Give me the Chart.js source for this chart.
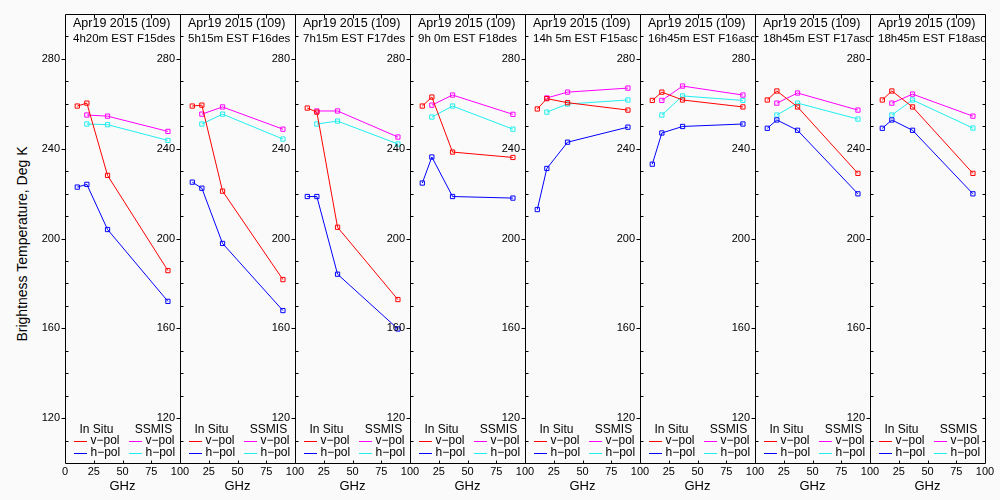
<!DOCTYPE html>
<html lang="en">
<head>
  <meta charset="UTF-8">
  <title>Brightness Temperature Apr19 2015</title>
  <script src="https://cdn.jsdelivr.net/npm/chart.js"></script>
  <style>
    html, body { margin: 0; padding: 0; background: #fafafa; overflow: hidden; }
    #page { position: relative; width: 1000px; height: 500px; }
    canvas { position: absolute; top: 0; }
    #ytitle {
      position: absolute; left: 22px; top: 244px;
      transform: translate(-50%, -50%) rotate(-90deg);
      font: 14px "Liberation Sans", Arial, sans-serif; white-space: nowrap; color: #000;
    }
  </style>
</head>
<body>
  <div id="page">
    <div id="ytitle">Brightness Temperature, Deg K</div>
  </div>

  <script>
    // panel titles
    const dateLabel = "Apr19 2015 (109)";
    const passLabels = ["4h20m EST F15des", "5h15m EST F16des", "7h15m EST F17des", "9h 0m EST F18des",
                        "14h 5m EST F15asc", "16h45m EST F16asc", "18h45m EST F17asc", "18h45m EST F18asc"];

    // frequencies (GHz)
    const inSituFreq = [10.7, 19, 37, 89.5];
    const ssmisFreq = [19, 37, 89.5];

    // brightness temperatures (K), one row per panel
    const inSituV = [
      [259.0, 260.3, 228.1, 185.7],
      [259.0, 259.4, 221.1, 181.7],
      [258.1, 256.3, 205.0, 172.8],
      [259.0, 263.0, 238.5, 236.1],
      [257.7, 262.3, 260.5, 257.2],
      [261.5, 265.2, 261.7, 258.6],
      [261.7, 265.7, 258.6, 229.0],
      [261.7, 265.7, 258.6, 229.0]
    ];
    const inSituH = [
      [222.9, 224.1, 204.0, 172.0],
      [225.1, 222.4, 197.8, 167.9],
      [218.7, 218.7, 184.1, 159.7],
      [224.7, 236.3, 218.7, 218.0],
      [212.9, 231.2, 242.9, 249.6],
      [233.1, 247.0, 249.9, 251.0],
      [249.1, 252.8, 248.2, 219.9],
      [249.1, 252.8, 248.2, 219.9]
    ];
    const ssmisV = [
      [255.0, 254.5, 247.7],
      [255.4, 258.6, 248.7],
      [256.8, 256.8, 245.2],
      [259.4, 263.9, 255.3],
      [262.6, 265.2, 267.0],
      [261.5, 267.9, 263.9],
      [260.3, 264.8, 257.2],
      [260.3, 264.3, 254.5]
    ];
    const ssmisH = [
      [251.0, 250.7, 243.7],
      [251.0, 255.4, 244.3],
      [251.0, 252.3, 242.1],
      [254.1, 259.0, 248.7],
      [256.3, 259.9, 261.7],
      [255.0, 263.5, 261.5],
      [255.0, 260.3, 253.2],
      [255.0, 261.7, 249.2]
    ];

    const yTicks = [120, 160, 200, 240, 280];
    const xTicks = [0, 25, 50, 75, 100];

    const FONT = '"Liberation Sans", Arial, sans-serif';
    const couleurs = { iv: "#ff0000", ih: "#0000ff", sv: "#ff00ff", sh: "#22eeee" };

    function serie(freqs, vals, color) {
      return {
        data: freqs.map((f, k) => ({ x: f, y: vals[k] })),
        borderColor: color,
        borderWidth: 1,
        backgroundColor: "transparent",
        pointStyle: "rect",
        pointRadius: 3,
        pointBorderWidth: 1,
        pointBorderColor: color,
        pointBackgroundColor: "transparent",
        tension: 0
      };
    }

    function cadre(i) {
      return {
        id: "cadre" + i,
        afterDraw(chart) {
          const { ctx, chartArea: a, scales: { x, y } } = chart;
          const L = Math.round(a.left) + 0.5, R = Math.round(a.right) + 0.5;
          const T = Math.round(a.top) + 0.5, B = Math.round(a.bottom) + 0.5;
          ctx.save();
          ctx.strokeStyle = "#000";
          ctx.lineWidth = 1;
          ctx.beginPath();
          ctx.rect(L, T, R - L, B - T);
          // y ticks
          for (let v = 110; v <= 290; v += 10) {
            const py = Math.round(y.getPixelForValue(v)) + 0.5;
            if (yTicks.includes(v)) { ctx.moveTo(L - 4, py); ctx.lineTo(L, py); }
            else { ctx.moveTo(L, py); ctx.lineTo(L + 3, py); }
            if (i === 7) { ctx.moveTo(R, py); ctx.lineTo(R - 3, py); }
          }
          // x ticks top and bottom
          [25, 50, 75].forEach(v => {
            const px = Math.round(x.getPixelForValue(v)) + 0.5;
            ctx.moveTo(px, T); ctx.lineTo(px, T + 4);
            ctx.moveTo(px, B); ctx.lineTo(px, B - 3);
          });
          ctx.stroke();

          // titles, clipped to the panel
          ctx.save();
          ctx.beginPath();
          ctx.rect(a.left + 1, a.top + 1, a.right - a.left - 1.5, 40);
          ctx.clip();
          ctx.fillStyle = "#000";
          ctx.textBaseline = "middle";
          ctx.textAlign = "left";
          ctx.font = "12.5px " + FONT;
          ctx.fillText(dateLabel, a.left + 8, 24);
          ctx.font = "11.5px " + FONT;
          ctx.fillText(passLabels[i], a.left + 8, 38.5);
          ctx.restore();

          // legend
          ctx.fillStyle = "#000";
          ctx.font = "12px " + FONT;
          ctx.textBaseline = "middle";
          ctx.textAlign = "center";
          ctx.fillText("In Situ", a.left + 31.5, 429.5);
          ctx.fillText("SSMIS", a.left + 88.5, 429.5);
          ctx.textAlign = "left";
          const lignes = [
            [couleurs.iv, 9, 441, "v\u2212pol"], [couleurs.ih, 9, 452.5, "h\u2212pol"],
            [couleurs.sv, 64, 441, "v\u2212pol"], [couleurs.sh, 64, 452.5, "h\u2212pol"]
          ];
          lignes.forEach(([c, dx, ly, t]) => {
            ctx.strokeStyle = c;
            ctx.beginPath();
            ctx.moveTo(a.left + dx, Math.round(ly) + 0.5);
            ctx.lineTo(a.left + dx + 13, Math.round(ly) + 0.5);
            ctx.stroke();
            ctx.fillText(t, a.left + dx + 16.5, ly);
          });

          // axis title
          ctx.font = "13px " + FONT;
          ctx.textAlign = "center";
          ctx.fillText("GHz", (a.left + a.right) / 2, 486);
          ctx.restore();
        }
      };
    }

    const page = document.getElementById("page");
    for (let i = 0; i < 8; i++) {
      const cv = document.createElement("canvas");
      cv.width = 160;
      cv.height = 500;
      cv.style.left = (35 + 115 * i) + "px";
      cv.style.width = "160px";
      cv.style.height = "500px";
      page.appendChild(cv);

      new Chart(cv, {
        type: "line",
        data: {
          datasets: [
            serie(inSituFreq, inSituV[i], couleurs.iv),
            serie(inSituFreq, inSituH[i], couleurs.ih),
            serie(ssmisFreq, ssmisV[i], couleurs.sv),
            serie(ssmisFreq, ssmisH[i], couleurs.sh)
          ]
        },
        options: {
          responsive: false,
          animation: false,
          devicePixelRatio: 1,
          layout: { padding: { top: 14, right: 15, left: 0, bottom: 0 } },
          plugins: { legend: { display: false }, tooltip: { enabled: false } },
          scales: {
            x: {
              type: "linear", min: 0, max: 100,
              afterFit(s) { s.height = 37; },
              afterBuildTicks(s) { s.ticks = xTicks.map(v => ({ value: v })); },
              grid: { display: false, drawTicks: false },
              border: { display: false },
              ticks: {
                autoSkip: false, maxRotation: 0, padding: 2, color: "#000",
                font: { family: FONT, size: 11 },
                callback: v => (v === 0 && i > 0) ? "" : String(v)
              }
            },
            y: {
              type: "linear", min: 100, max: 300,
              afterFit(s) { s.width = 30; },
              afterBuildTicks(s) { s.ticks = yTicks.map(v => ({ value: v })); },
              grid: { display: false, drawTicks: false },
              border: { display: false },
              ticks: { padding: 5, color: "#000", font: { family: FONT, size: 11 } }
            }
          }
        },
        plugins: [cadre(i)]
      });
    }
  </script>
</body>
</html>
